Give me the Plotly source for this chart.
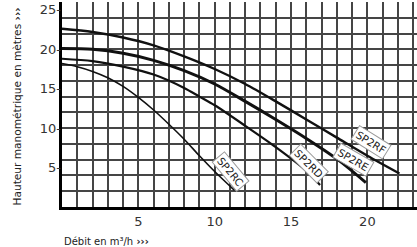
import numpy as np
import plotly.graph_objects as go

# Pump curves: flow (m³/h) vs head (m)
flow_rc = [0, 1, 2, 3, 4, 5, 6, 7, 8, 9, 10, 11.3]
head_rc = [18.2, 17.8, 17.2, 16.4, 15.3, 13.9, 12.3, 10.5, 8.6, 6.5, 4.5, 2.1]
flow_rd = [0, 2, 4, 6, 8, 9, 10, 12, 14, 16, 16.9]
head_rd = [18.8, 18.5, 17.8, 16.8, 15.1, 14.0, 12.9, 10.3, 7.6, 4.6, 2.8]
flow_re = [0, 2, 4, 6, 8, 10, 12, 14, 16, 18, 19.9]
head_re = [20.1, 20.0, 19.5, 18.6, 17.3, 15.6, 13.4, 11.1, 8.7, 6.1, 3.1]
flow_rf = [0, 2, 4, 6, 8, 10, 12, 14, 16, 18, 20, 22.1]
head_rf = [22.6, 22.2, 21.5, 20.5, 19.1, 17.5, 15.6, 13.4, 11.1, 8.8, 6.5, 4.25]

names = ["SP2RC", "SP2RD", "SP2RE", "SP2RF"]
x_ticks = [5, 10, 15, 20]
y_ticks = [5, 10, 15, 20, 25]

series = [
    (names[0], flow_rc, head_rc),
    (names[1], flow_rd, head_rd),
    (names[2], flow_re, head_re),
    (names[3], flow_rf, head_rf),
]
widths = {"SP2RC": 1.6, "SP2RD": 2.2, "SP2RE": 3.0, "SP2RF": 2.4}
# label placement along each curve (x in data units) and pixel shifts
label_pos = {"SP2RC": (10.9, 2, 13, 50), "SP2RD": (16.1, 1, 9, 45),
             "SP2RE": (19.0, 1, 12, 30), "SP2RF": (20.2, 1, 15, 32)}

GRID = "#454545"
fig = go.Figure()
for name, fx, fy in series:
    fig.add_trace(go.Scatter(x=fx, y=fy, mode="lines", name=name,
                             line=dict(color="#111111", width=widths[name], shape="spline", smoothing=0.8),
                             hoverinfo="skip", showlegend=False))
# helper trace for the labelled overlay axis
fig.add_trace(go.Scatter(x=flow_rc, y=head_rc, yaxis="y2", mode="lines", opacity=0,
                         hoverinfo="skip", showlegend=False))

annotations = []
for name, fx, fy in series:
    lx, xs, ys, ang = label_pos[name]
    ly = float(np.interp(lx, fx, fy))
    annotations.append(dict(x=lx, y=ly, xref="x", yref="y", text=name, showarrow=False,
                            textangle=ang, xshift=xs, yshift=ys,
                            font=dict(family="DejaVu Sans", size=10.5, color="#222"),
                            bgcolor="white", bordercolor="#9a9a9a", borderwidth=1, borderpad=1.5))

annotations.append(dict(text="Hauteur manométrique en mètres <b>›››</b>", xref="paper", yref="paper",
                        x=0, y=0.5, xshift=-54, yshift=-2, textangle=-90, showarrow=False,
                        font=dict(family="DejaVu Sans", size=10.6, color="#222")))
annotations.append(dict(text="Débit en m³/h <b>›››</b>", xref="paper", yref="paper",
                        x=0, y=0, xanchor="left", yanchor="middle", yshift=-34, showarrow=False,
                        font=dict(family="DejaVu Sans", size=10, color="#222")))

fig.update_layout(
    width=417, height=247,
    margin=dict(l=62, r=0, t=2, b=40),
    paper_bgcolor="white", plot_bgcolor="white",
    xaxis=dict(range=[0, 23.25], tickvals=x_ticks, showgrid=True, gridcolor=GRID, gridwidth=1.5,
               minor=dict(tick0=0, dtick=1, showgrid=True, gridcolor=GRID, gridwidth=1.5),
               showline=True, linecolor="black", linewidth=3, zeroline=False, ticks="",
               tickfont=dict(family="DejaVu Sans", size=13, color="#333")),
    yaxis=dict(range=[0, 26], tick0=0, dtick=2, showgrid=True, gridcolor=GRID, gridwidth=1.5,
               showticklabels=False, showline=True, linecolor="black", linewidth=3,
               zeroline=False, ticks=""),
    yaxis2=dict(range=[0, 26], overlaying="y", side="left", tickvals=y_ticks,
                ticktext=[f"{v}-" for v in y_ticks], showgrid=False, zeroline=False,
                showline=False, ticks="",
                tickfont=dict(family="DejaVu Sans", size=13, color="#333")),
    annotations=annotations,
)
fig.write_html("out.html")
